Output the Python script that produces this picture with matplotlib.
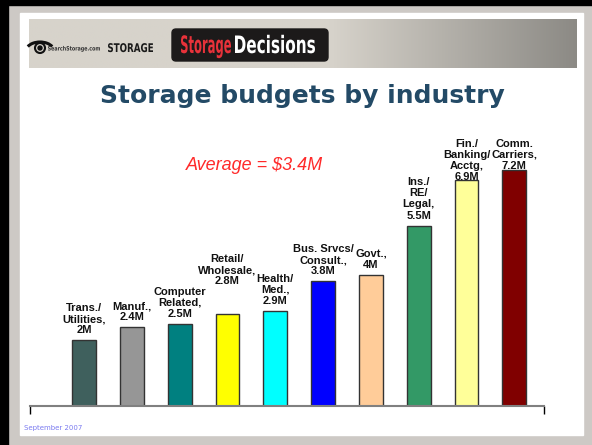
import matplotlib
matplotlib.use("Agg")
import matplotlib.pyplot as plt
import matplotlib.patches as patches
from matplotlib.textpath import TextPath
from matplotlib.font_manager import FontProperties
from matplotlib.transforms import Affine2D
import numpy as np

# chart data (values in $M)
industries = ["Trans./\nUtilities,\n2M", "Manuf.,\n2.4M", "Computer\nRelated,\n2.5M",
              "Retail/\nWholesale,\n2.8M", "Health/\nMed.,\n2.9M", "Bus. Srvcs/\nConsult.,\n3.8M",
              "Govt.,\n4M", "Ins./\nRE/\nLegal,\n5.5M", "Fin./\nBanking/\nAcctg,\n6.9M",
              "Comm.\nCarriers,\n7.2M"]
budgets = [2.0, 2.4, 2.5, 2.8, 2.9, 3.8, 4.0, 5.5, 6.9, 7.2]
bar_colors = ["#3f605d", "#969696", "#008080", "#ffff00", "#00ffff", "#0000ff",
              "#ffcc99", "#339966", "#ffff99", "#800000"]
average_text = "Average = $3.4M"
title_text = "Storage budgets by industry"

W, H = 592, 445
fig = plt.figure(figsize=(W / 100, H / 100), dpi=100)
fig.patch.set_facecolor("#cdc9c5")

# background axes in pixel units (origin top-left)
bg = fig.add_axes([0, 0, 1, 1], zorder=0)
bg.set_xlim(0, W)
bg.set_ylim(H, 0)
bg.axis("off")


def narrow_text(ax, s, x, y, size, width, color, ha="left", z=3):
    """Draw condensed bold text as a path, squeezed to a pixel width; y is the baseline."""
    tp = TextPath((0, 0), s, size=size, prop=FontProperties(family="DejaVu Sans", weight="bold"))
    ext = tp.get_extents()
    sx = width / ext.width
    x0 = x if ha == "left" else x - width
    tr = Affine2D().translate(-ext.x0, 0).scale(sx, -1).translate(x0, y)
    path = tr.transform_path(tp)
    ax.add_patch(patches.PathPatch(path, color=color, lw=0, zorder=z))


# black frame edges and white slide
bg.add_patch(patches.Rectangle((0, 0), 8, H, color="#000000"))
bg.add_patch(patches.Rectangle((0, 0), W, 5, color="#000000"))
bg.add_patch(patches.Rectangle((20, 13), 563, 422, color="#ffffff"))

# header band with a grey gradient
grad = np.linspace(0, 1, 300)
grad = np.clip((grad - 0.55) / 0.45, 0, 1)
band = np.zeros((2, 300, 3))
left_c = np.array([215, 211, 203]) / 255
right_c = np.array([140, 138, 133]) / 255
for i in range(3):
    band[:, :, i] = left_c[i] + (right_c[i] - left_c[i]) * grad
bg.imshow(band, extent=(29, 577, 68, 19), aspect="auto", zorder=1)

# eye logo
bg.add_patch(patches.Arc((40, 51), 28, 18, theta1=200, theta2=340, lw=2.2,
                         color="#111111", zorder=2))
bg.add_patch(patches.Circle((40, 48), 5, fill=False, lw=1.5, color="#111111", zorder=2))
bg.add_patch(patches.Circle((40, 48), 2, color="#111111", zorder=2))
narrow_text(bg, "SearchStorage.com", 48, 50.5, 6, 52, "#333333", z=2)
narrow_text(bg, "STORAGE", 108, 52, 12, 45, "#1a1a1a", z=2)

# Storage Decisions badge
bg.add_patch(patches.FancyBboxPatch((172, 29), 156, 32,
                                    boxstyle="round,pad=0,rounding_size=4",
                                    color="#1c1a1a", zorder=2))
narrow_text(bg, "Storage", 231, 53, 24, 50, "#e8323a", ha="right")
narrow_text(bg, "Decisions", 235, 53, 24, 80, "#ffffff")

# title and average note
bg.text(302, 96, title_text, fontsize=18, color="#234a66", fontweight="bold",
        ha="center", va="center", family="DejaVu Sans", zorder=2)
bg.text(254, 165, average_text, fontsize=13, color="#ff2a2a", style="italic",
        ha="center", va="center", family="Liberation Sans", zorder=2)
bg.text(24, 428, "September 2007", fontsize=5, color="#7b7bf0",
        ha="left", va="center", family="DejaVu Sans", zorder=2)

# bar chart
base_px, top_px = 406, 137
px_per_m = 32.8
left_px, right_px = 30, 544
ax = fig.add_axes([left_px / W, 1 - base_px / H, (right_px - left_px) / W,
                   (base_px - top_px) / H], zorder=1)
ax.patch.set_alpha(0)
x = np.arange(len(budgets))
ax.bar(x, budgets, width=0.5, color=bar_colors, edgecolor="#333333", linewidth=1)
ymax = (base_px - top_px) / px_per_m
ax.set_ylim(0, ymax)
xmin, xmax = -1.13, 9.62
ax.set_xlim(xmin, xmax)

# Retail label sits higher to clear its neighbours
label_lift = {3: 0.7}
for i, (xi, val, lab) in enumerate(zip(x, budgets, industries)):
    n_lines = lab.count("\n") + 1
    if val + n_lines * 0.39 + 0.15 > ymax:
        ax.text(xi, ymax - 0.05, lab, ha="center", va="top", fontsize=8,
                fontweight="bold", family="Liberation Sans", linespacing=1.15,
                color="#111111", clip_on=False)
    else:
        ax.text(xi, val + 0.15 + label_lift.get(i, 0), lab, ha="center", va="bottom",
                fontsize=8, fontweight="bold", family="Liberation Sans", linespacing=1.15,
                color="#111111", clip_on=False)

for side in ["top", "right", "left"]:
    ax.spines[side].set_visible(False)
ax.spines["bottom"].set_color("#808080")
ax.spines["bottom"].set_linewidth(1.5)
ax.set_yticks([])
ax.set_xticks([xmin, xmax])
ax.set_xticklabels(["", ""])
ax.tick_params(axis="x", direction="out", length=6, width=1, color="#000000")

fig.savefig("out.png", dpi=100, facecolor=fig.get_facecolor())
